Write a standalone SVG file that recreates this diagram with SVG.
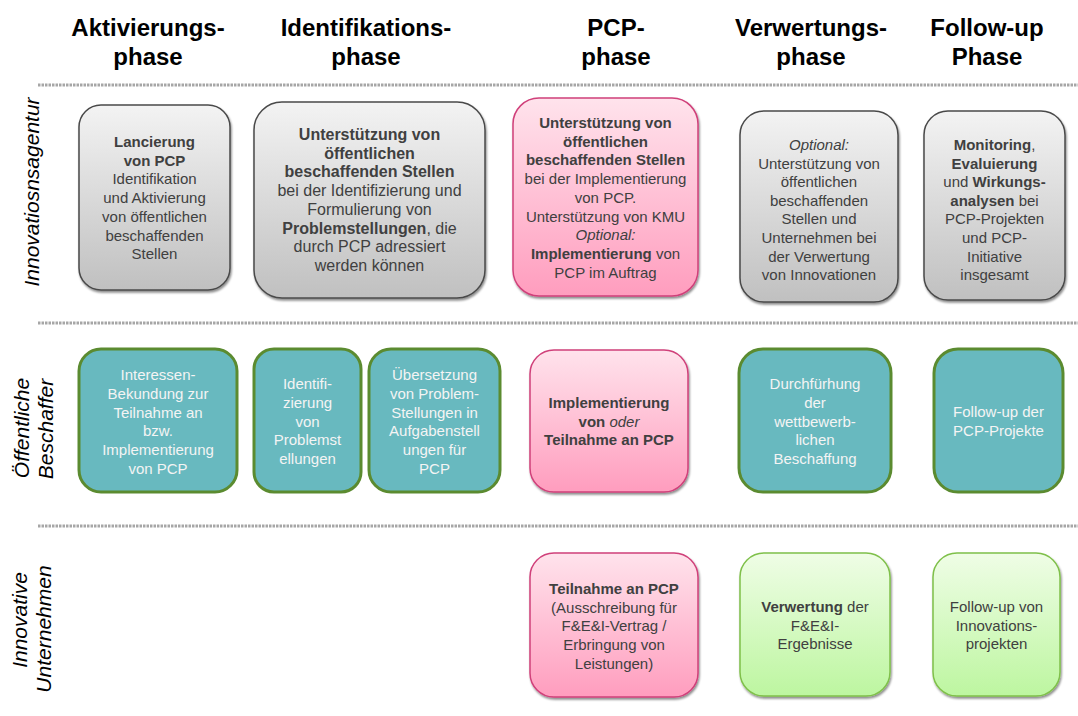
<svg xmlns="http://www.w3.org/2000/svg" width="1078" height="716" viewBox="0 0 1078 716">
<defs>
<linearGradient id="gGray" x1="0" y1="0" x2="0" y2="1"><stop offset="0" stop-color="#f3f3f3"/><stop offset="1" stop-color="#c0c0c0"/></linearGradient>
<linearGradient id="gPink" x1="0" y1="0" x2="0" y2="1"><stop offset="0" stop-color="#ffe3ec"/><stop offset="1" stop-color="#ff9dbe"/></linearGradient>
<linearGradient id="gGreen" x1="0" y1="0" x2="0" y2="1"><stop offset="0" stop-color="#effde6"/><stop offset="1" stop-color="#bdf6a0"/></linearGradient>
<filter id="sh" x="-10%" y="-10%" width="120%" height="120%"><feDropShadow dx="1" dy="2" stdDeviation="1.2" flood-color="#000" flood-opacity="0.45"/></filter>
</defs>
<style>
.hdr{font-family:"Liberation Sans",Arial,sans-serif;font-weight:bold;font-size:24px;text-anchor:middle;fill:#000}
.side{font-family:"Liberation Sans",Arial,sans-serif;font-style:italic;font-size:21px;text-anchor:middle;fill:#000}
.sep{stroke:#a6a6a6;stroke-width:3;stroke-dasharray:2.5 1;fill:none}
.gray{fill:url(#gGray);stroke:#4a4a4a;stroke-width:1.5;filter:url(#sh)}
.pink{fill:url(#gPink);stroke:#d0407a;stroke-width:1.5;filter:url(#sh)}
.green{fill:url(#gGreen);stroke:#7fc04a;stroke-width:1.5;filter:url(#sh)}
.teal{fill:#68b9bf;stroke:#5b8b30;stroke-width:3}
.t{font-family:"Liberation Sans",Arial,sans-serif;font-size:15px;text-anchor:middle;fill:#404040}
.big{font-size:16px}
.w{fill:#f4f4f4}
.b{font-weight:bold}
.i{font-style:italic}
</style>

<g id="headers">
<text class="hdr" x="148" y="36">Aktivierungs-<tspan x="148" dy="29">phase</tspan></text>
<text class="hdr" x="366" y="36">Identifikations-<tspan x="366" dy="29">phase</tspan></text>
<text class="hdr" x="616" y="36">PCP-<tspan x="616" dy="29">phase</tspan></text>
<text class="hdr" x="811" y="36">Verwertungs-<tspan x="811" dy="29">phase</tspan></text>
<text class="hdr" x="987" y="36">Follow-up<tspan x="987" dy="29">Phase</tspan></text>
</g>

<g id="separators">
<line class="sep" x1="38" y1="85" x2="1078" y2="85"/>
<line class="sep" x1="38" y1="323" x2="1078" y2="323"/>
<line class="sep" x1="38" y1="526" x2="1078" y2="526"/>
</g>

<g id="lanes">
<text class="side" transform="translate(39,192) rotate(-90)">Innovatiosnsagentur</text>
<text class="side" transform="translate(29,428) rotate(-90)">Öffentliche</text>
<text class="side" transform="translate(53,429) rotate(-90)">Beschaffer</text>
<text class="side" transform="translate(27,620) rotate(-90)">Innovative</text>
<text class="side" transform="translate(51,629) rotate(-90)">Unternehmen</text>
</g>

<g id="connectors"></g>

<g id="b1">
<rect class="gray" x="79" y="105" width="151" height="185" rx="22"/>
<text class="t" x="154.5" y="147"><tspan class="b">Lancierung</tspan><tspan x="154.5" dy="18.7" class="b">von PCP</tspan><tspan x="154.5" dy="18.7">Identifikation</tspan><tspan x="154.5" dy="18.7">und Aktivierung</tspan><tspan x="154.5" dy="18.7">von öffentlichen</tspan><tspan x="154.5" dy="18.7">beschaffenden</tspan><tspan x="154.5" dy="18.7">Stellen</tspan></text>
</g>
<g id="b2">
<rect class="gray" x="254" y="102" width="231" height="196" rx="28"/>
<text class="t big" x="369.5" y="140"><tspan class="b">Unterstützung von</tspan><tspan x="369.5" dy="18.7" class="b">öffentlichen</tspan><tspan x="369.5" dy="18.7" class="b">beschaffenden Stellen</tspan><tspan x="369.5" dy="18.7">bei der Identifizierung und</tspan><tspan x="369.5" dy="18.7">Formulierung von</tspan><tspan x="369.5" dy="18.7"><tspan class="b">Problemstellungen</tspan>, die</tspan><tspan x="369.5" dy="18.7">durch PCP adressiert</tspan><tspan x="369.5" dy="18.7">werden können</tspan></text>
</g>
<g id="b3">
<rect class="pink" x="513" y="98" width="185" height="198" rx="26"/>
<text class="t" x="605.5" y="128"><tspan class="b">Unterstützung von</tspan><tspan x="605.5" dy="18.7" class="b">öffentlichen</tspan><tspan x="605.5" dy="18.7" class="b">beschaffenden Stellen</tspan><tspan x="605.5" dy="18.7">bei der Implementierung</tspan><tspan x="605.5" dy="18.7">von PCP.</tspan><tspan x="605.5" dy="18.7">Unterstützung von KMU</tspan><tspan x="605.5" dy="18.7" class="i">Optional:</tspan><tspan x="605.5" dy="18.7"><tspan class="b">Implementierung</tspan> von</tspan><tspan x="605.5" dy="18.7">PCP im Auftrag</tspan></text>
</g>
<g id="b4">
<rect class="gray" x="740" y="111" width="158" height="191" rx="24"/>
<text class="t" x="819" y="150"><tspan class="i">Optional:</tspan><tspan x="819" dy="18.6">Unterstützung von</tspan><tspan x="819" dy="18.6">öffentlichen</tspan><tspan x="819" dy="18.6">beschaffenden</tspan><tspan x="819" dy="18.6">Stellen und</tspan><tspan x="819" dy="18.6">Unternehmen bei</tspan><tspan x="819" dy="18.6">der Verwertung</tspan><tspan x="819" dy="18.6">von Innovationen</tspan></text>
</g>
<g id="b5">
<rect class="gray" x="924" y="111" width="141" height="189" rx="24"/>
<text class="t" x="994.5" y="150"><tspan class="b">Monitoring</tspan>,<tspan x="994.5" dy="18.6" class="b">Evaluierung</tspan><tspan x="994.5" dy="18.6">und <tspan class="b">Wirkungs-</tspan></tspan><tspan x="994.5" dy="18.6"><tspan class="b">analysen</tspan> bei</tspan><tspan x="994.5" dy="18.6">PCP-Projekten</tspan><tspan x="994.5" dy="18.6">und PCP-</tspan><tspan x="994.5" dy="18.6">Initiative</tspan><tspan x="994.5" dy="18.6">insgesamt</tspan></text>
</g>

<g id="c1">
<rect class="teal" x="79" y="349" width="158" height="143" rx="22"/>
<text class="t w" x="158" y="380">Interessen-<tspan x="158" dy="18.8">Bekundung zur</tspan><tspan x="158" dy="18.8">Teilnahme an</tspan><tspan x="158" dy="18.8">bzw.</tspan><tspan x="158" dy="18.8">Implementierung</tspan><tspan x="158" dy="18.8">von PCP</tspan></text>
</g>
<g id="c2">
<rect class="teal" x="254" y="349" width="107" height="143" rx="20"/>
<text class="t w" x="307.5" y="389">Identifi-<tspan x="307.5" dy="18.8">zierung</tspan><tspan x="307.5" dy="18.8">von</tspan><tspan x="307.5" dy="18.8">Problemst</tspan><tspan x="307.5" dy="18.8">ellungen</tspan></text>
</g>
<g id="c3">
<rect class="teal" x="369" y="349" width="131" height="143" rx="22"/>
<text class="t w" x="434.5" y="380">Übersetzung<tspan x="434.5" dy="18.8">von Problem-</tspan><tspan x="434.5" dy="18.8">Stellungen in</tspan><tspan x="434.5" dy="18.8">Aufgabenstell</tspan><tspan x="434.5" dy="18.8">ungen für</tspan><tspan x="434.5" dy="18.8">PCP</tspan></text>
</g>
<g id="c4">
<rect class="pink" x="530" y="350" width="158" height="142" rx="24"/>
<text class="t" x="609" y="408"><tspan class="b">Implementierung</tspan><tspan x="609" dy="18.7"><tspan class="b">von </tspan><tspan class="i">oder</tspan></tspan><tspan x="609" dy="18.7" class="b">Teilnahme an PCP</tspan></text>
</g>
<g id="c5">
<rect class="teal" x="739" y="349" width="152" height="143" rx="24"/>
<text class="t w" x="815" y="389">Durchfürhung<tspan x="815" dy="18.8">der</tspan><tspan x="815" dy="18.8">wettbewerb-</tspan><tspan x="815" dy="18.8">lichen</tspan><tspan x="815" dy="18.8">Beschaffung</tspan></text>
</g>
<g id="c6">
<rect class="teal" x="934" y="349" width="129" height="143" rx="24"/>
<text class="t w" x="998.5" y="417">Follow-up der<tspan x="998.5" dy="18.8">PCP-Projekte</tspan></text>
</g>

<g id="d1">
<rect class="pink" x="530" y="553" width="168" height="144" rx="24"/>
<text class="t" x="614" y="594"><tspan class="b">Teilnahme an PCP</tspan><tspan x="614" dy="18.7">(Ausschreibung für</tspan><tspan x="614" dy="18.7">F&amp;E&amp;I-Vertrag /</tspan><tspan x="614" dy="18.7">Erbringung von</tspan><tspan x="614" dy="18.7">Leistungen)</tspan></text>
</g>
<g id="d2">
<rect class="green" x="740" y="553" width="150" height="143" rx="24"/>
<text class="t" x="815" y="612"><tspan class="b">Verwertung</tspan> der<tspan x="815" dy="18.7">F&amp;E&amp;I-</tspan><tspan x="815" dy="18.7">Ergebnisse</tspan></text>
</g>
<g id="d3">
<rect class="green" x="933" y="553" width="127" height="143" rx="24"/>
<text class="t" x="996.5" y="612">Follow-up von<tspan x="996.5" dy="18.7">Innovations-</tspan><tspan x="996.5" dy="18.7">projekten</tspan></text>
</g>
</svg>
